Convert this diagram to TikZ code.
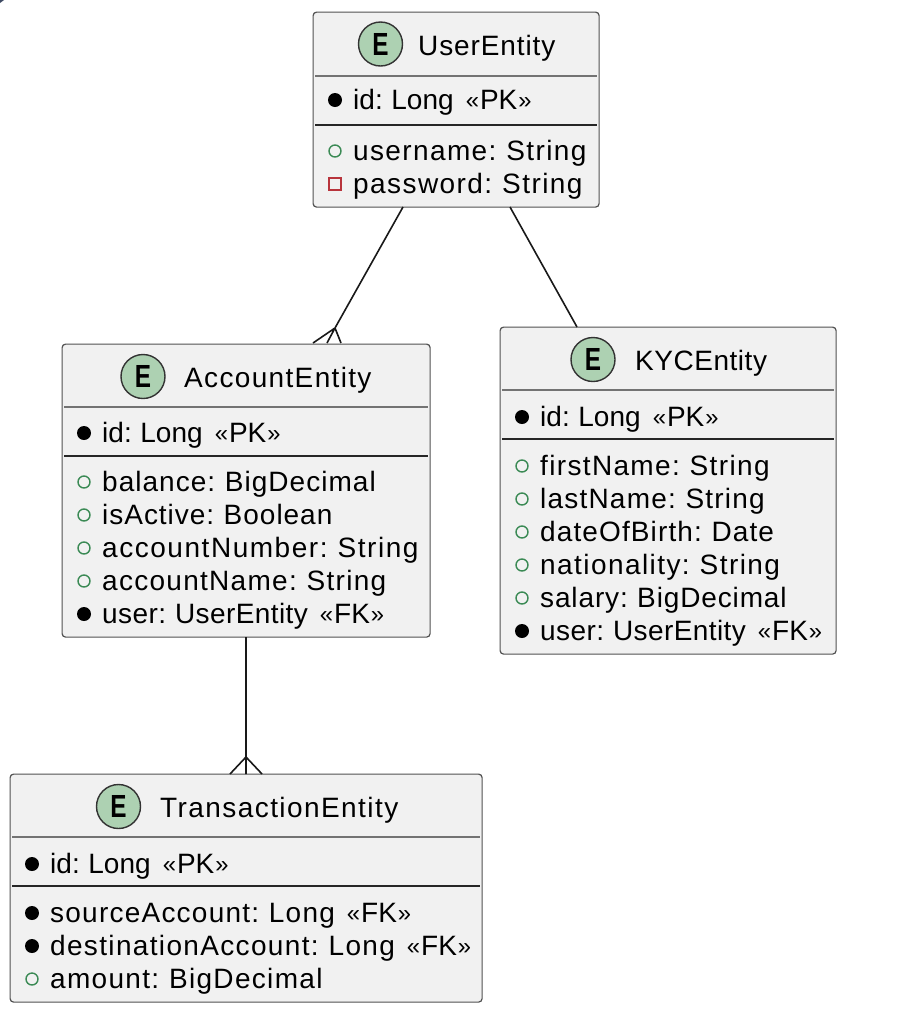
\documentclass[tikz,border=0pt]{standalone}
\usepackage{graphicx}
\usepackage{fontspec}
\setmainfont[WordSpace=0.75]{Liberation Sans}
\tikzset{
  x=1pt,y=-1pt,
  entity/.style={draw=black!68,line width=1.2pt,fill=black!5.5,rounded corners=3.5pt,inner sep=0pt,anchor=north west},
  badge/.style={circle,draw=black!80,line width=1.4pt,fill=badgegreen,minimum size=44pt,inner sep=0pt,font=\fontsize{32}{32}\selectfont\bfseries},
  title/.style={anchor=base west,inner sep=0pt,font=\fontsize{28}{30}\selectfont},
  row/.style={anchor=base west,inner sep=0pt,font=\fontsize{28}{30}\selectfont},
  sepa/.style={draw=black!55,line width=1.3pt},
  sepb/.style={draw=black!85,line width=1.5pt},
  mand/.style={circle,fill=black,minimum size=14pt,inner sep=0pt},
  pub/.style={circle,draw=pubgreen,line width=1.4pt,fill=none,minimum size=12pt,inner sep=0pt},
  priv/.style={rectangle,draw=privred,line width=1.4pt,fill=none,minimum size=12pt,inner sep=0pt},
  link/.style={draw=black!90,line width=1.6pt},
}
\definecolor{badgegreen}{HTML}{ADD1B2}
\definecolor{pubgreen}{HTML}{3B8A55}
\definecolor{privred}{HTML}{B8343C}
\definecolor{cornerdark}{HTML}{3E4A63}
\newcommand{\ls}[2]{\pgfmathsetmacro{\lsv}{#1-0.4}{\addfontfeature{LetterSpace=\lsv}#2}}
\newcommand{\gl}[1]{\raisebox{1pt}{\scalebox{0.85}{#1}}}
\newcommand{\bigE}{\scalebox{0.76}[1]{E}}
\newcommand{\pk}{\ls{0.6}{id: Long}\hspace{12pt}\gl{«}\hspace{1pt}PK\hspace{1pt}\gl{»}}
\newcommand{\fk}{\hspace{12pt}\gl{«}\hspace{1pt}FK\hspace{1pt}\gl{»}}
\newcommand{\entbox}[5]{% name x1 y1 x2 y2
  \pgfmathsetmacro{\ww}{#4-#2}\pgfmathsetmacro{\hh}{#5-#3}
  \node[entity,minimum width=\ww pt,minimum height=\hh pt] (#1) at (#2-0.5,#3-0.5) {};
}
\newcommand{\erow}[6]{% id marker-style xm xt y text
  \node[#2] (m#1) at (#3,#5) {};
  \node[row] (t#1) at (#4,#5+9.5) {#6};
}
\begin{document}
\begin{tikzpicture}
\useasboundingbox (0,0) rectangle (916,1026);
\fill[white] (0,0) rectangle (916,1026);
\fill[cornerdark] (0,0) -- (4,0) -- (0,3) -- cycle;
% UserEntity
\entbox{user}{313}{12}{599}{207}
\node[badge] (ue) at (380.5,44) {\bigE};
\node[title] (ut) at (418,55) {\ls{3.6}{UserEntity}};
\draw[sepa] (315,76) -- (597,76);
\draw[sepb] (315,125) -- (597,125);
\erow{u1}{mand}{335}{353}{100}{\pk}
\erow{u2}{pub}{335}{353}{151}{\ls{5.3}{username: String}}
\erow{u3}{priv}{335}{353}{184}{\ls{5.5}{password: String}}
% AccountEntity
\entbox{acc}{62}{344}{430}{637}
\node[badge] (ae) at (143,376.5) {\bigE};
\node[title] (at) at (184,387) {\ls{5.2}{AccountEntity}};
\draw[sepa] (64,407) -- (428,407);
\draw[sepb] (64,456) -- (428,456);
\erow{a1}{mand}{84}{102}{433}{\pk}
\erow{a2}{pub}{84}{102}{482}{\ls{4.1}{balance: BigDecimal}}
\erow{a3}{pub}{84}{102}{515}{\ls{3.9}{isActive: Boolean}}
\erow{a4}{pub}{84}{102}{548}{\ls{5.9}{accountNumber: String}}
\erow{a5}{pub}{84}{102}{581}{\ls{5.0}{accountName: String}}
\erow{a6}{mand}{84}{102}{614}{\ls{1.9}{user: UserEntity}\fk}
% KYCEntity
\entbox{kyc}{500}{327}{836}{654}
\node[badge] (ke) at (593,359.5) {\bigE};
\node[title] (kt) at (635,370) {\ls{2.3}{KYCEntity}};
\draw[sepa] (502,390) -- (834,390);
\draw[sepb] (502,439) -- (834,439);
\erow{k1}{mand}{522}{540}{417}{\pk}
\erow{k2}{pub}{522}{540}{466}{\ls{5.2}{firstName: String}}
\erow{k3}{pub}{522}{540}{499}{\ls{4.7}{lastName: String}}
\erow{k4}{pub}{522}{540}{532}{\ls{4.4}{dateOfBirth: Date}}
\erow{k5}{pub}{522}{540}{565}{\ls{5.5}{nationality: String}}
\erow{k6}{pub}{522}{540}{598}{\ls{3.5}{salary: BigDecimal}}
\erow{k7}{mand}{522}{540}{631}{\ls{1.9}{user: UserEntity}\fk}
% TransactionEntity
\entbox{tra}{10}{774}{482}{1002}
\node[badge] (te) at (118.5,806.5) {\bigE};
\node[title] (tt) at (160,817) {\ls{5.5}{TransactionEntity}};
\draw[sepa] (12,837) -- (480,837);
\draw[sepb] (12,886) -- (480,886);
\erow{t1}{mand}{32}{50}{864}{\pk}
\erow{t2}{mand}{32}{50}{913}{\ls{4.8}{sourceAccount: Long}\fk}
\erow{t3}{mand}{32}{50}{946}{\ls{5.2}{destinationAccount: Long}\fk}
\erow{t4}{pub}{32}{50}{979}{\ls{5.1}{amount: BigDecimal}}
% connectors
\coordinate (ua) at (403,207);
\coordinate (uk) at (510,207);
\coordinate (ka) at (577,327);
\coordinate (forka) at (335,328);
\coordinate (a1f) at (313,343);
\coordinate (a2f) at (327,343);
\coordinate (a3f) at (341,343);
\draw[link] (ua) -- (forka) (a1f) -- (forka) -- (a3f) (forka) -- (a2f);
\draw[link] (uk) -- (ka);
\coordinate (ab) at (246,637);
\coordinate (forkt) at (246,757);
\coordinate (t1f) at (230,774);
\coordinate (t2f) at (246,774);
\coordinate (t3f) at (262,774);
\draw[link] (ab) -- (t2f) (t1f) -- (forkt) -- (t3f);
\end{tikzpicture}
\end{document}
